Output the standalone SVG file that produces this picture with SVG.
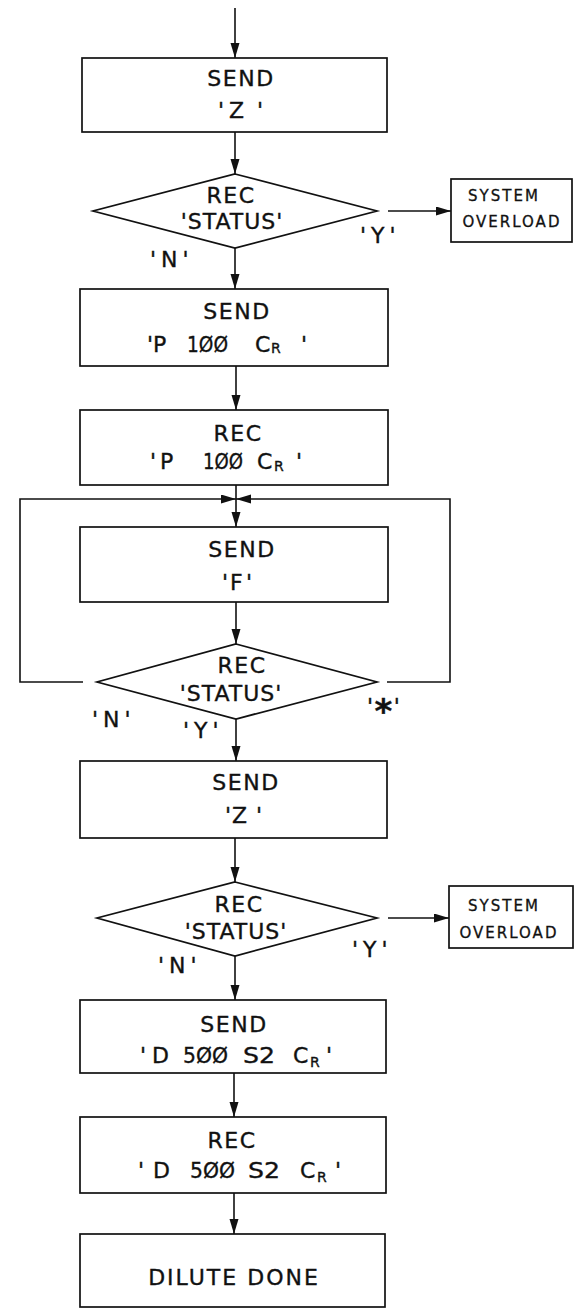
<svg xmlns="http://www.w3.org/2000/svg" width="574" height="1309" viewBox="0 0 574 1309">
<style>
.bg{fill:#fff}
.box{fill:#fff;stroke:#111;stroke-width:1.7}
.ln{fill:none;stroke:#111;stroke-width:1.6}
.t{font-family:"DejaVu Sans","Liberation Sans",sans-serif;font-size:22px;fill:#111;stroke:#111;stroke-width:0.35px;letter-spacing:1.5px}
.m{text-anchor:middle}
.s{font-size:15px;letter-spacing:2px;stroke-width:0.3px}
.sub{font-size:14px;letter-spacing:0}
.lab{letter-spacing:5px}
</style>
<defs>
<marker id="ah" markerUnits="userSpaceOnUse" markerWidth="16" markerHeight="10" refX="15" refY="4.5" orient="auto">
<path d="M0,0 L15,4.5 L0,9 z" fill="#111"/>
</marker>
</defs>
<rect class="bg" x="0" y="0" width="574" height="1309"/>
<g id="connectors">
<line class="ln" x1="235" y1="8" x2="235" y2="58" marker-end="url(#ah)"/>
<line class="ln" x1="235" y1="132" x2="235" y2="174" marker-end="url(#ah)"/>
<line class="ln" x1="235" y1="248" x2="235" y2="289" marker-end="url(#ah)"/>
<line class="ln" x1="388" y1="211" x2="451" y2="211" marker-end="url(#ah)"/>
<line class="ln" x1="236" y1="366" x2="236" y2="410" marker-end="url(#ah)"/>
<line class="ln" x1="236" y1="485" x2="236" y2="527" marker-end="url(#ah)"/>
<polyline class="ln" points="83,682 20,682 20,499 236,499" marker-end="url(#ah)"/>
<polyline class="ln" points="387,682 450,682 450,499 236,499" marker-end="url(#ah)"/>
<line class="ln" x1="236" y1="602" x2="236" y2="644" marker-end="url(#ah)"/>
<line class="ln" x1="236" y1="719" x2="236" y2="761" marker-end="url(#ah)"/>
<line class="ln" x1="235" y1="838" x2="235" y2="882" marker-end="url(#ah)"/>
<line class="ln" x1="388" y1="918" x2="449" y2="918" marker-end="url(#ah)"/>
<line class="ln" x1="235" y1="956" x2="235" y2="1000" marker-end="url(#ah)"/>
<line class="ln" x1="234" y1="1073" x2="234" y2="1117" marker-end="url(#ah)"/>
<line class="ln" x1="234" y1="1193" x2="234" y2="1234" marker-end="url(#ah)"/>
</g>
<g id="send-z-1">
<rect class="box" x="82" y="58" width="305" height="74"/>
<text class="t m" x="241" y="86">SEND</text>
<text class="t" y="118"><tspan x="218">'</tspan><tspan x="229">Z</tspan><tspan x="257">'</tspan></text>
</g>
<g id="rec-status-1">
<polygon class="box" points="235,174 377,211 235,248 93,211"/>
<text class="t m" x="231" y="203">REC</text>
<text class="t m" x="232" y="229" style="letter-spacing:1px">'STATUS'</text>
<text class="t lab" x="360" y="243">'Y'</text>
<text class="t lab" x="150" y="267">'N'</text>
</g>
<g id="overload-1">
<rect class="box" x="451" y="179" width="121" height="63"/>
<text class="t s m" x="504" y="201">SYSTEM</text>
<text class="t s m" x="512" y="227">OVERLOAD</text>
</g>
<g id="send-p100">
<rect class="box" x="80" y="289" width="308" height="77"/>
<text class="t m" x="237" y="319">SEND</text>
<text class="t" y="352" style="letter-spacing:0"><tspan x="147">'</tspan><tspan x="153">P</tspan><tspan x="187" textLength="41" lengthAdjust="spacingAndGlyphs">1ØØ</tspan><tspan x="255">C</tspan><tspan class="sub" x="271" y="353">R</tspan><tspan x="301" y="352">'</tspan></text>
</g>
<g id="rec-p100">
<rect class="box" x="80" y="410" width="308" height="75"/>
<text class="t m" x="238" y="441">REC</text>
<text class="t" y="469" style="letter-spacing:0"><tspan x="150">'</tspan><tspan x="160">P</tspan><tspan x="203" textLength="40" lengthAdjust="spacingAndGlyphs">1ØØ</tspan><tspan x="257">C</tspan><tspan class="sub" x="274" y="471">R</tspan><tspan x="296" y="469">'</tspan></text>
</g>
<g id="send-f">
<rect class="box" x="80" y="527" width="308" height="75"/>
<text class="t m" x="242" y="557">SEND</text>
<text class="t" y="590"><tspan x="222">'</tspan><tspan x="230">F</tspan><tspan x="246">'</tspan></text>
</g>
<g id="rec-status-2">
<polygon class="box" points="236,644 377,682 236,719 97,682"/>
<text class="t m" x="242" y="673">REC</text>
<text class="t m" x="231" y="701" style="letter-spacing:1px">'STATUS'</text>
<text class="t lab" x="92" y="727">'N'</text>
<text class="t lab" x="183" y="738">'Y'</text>
<text class="t" x="367" y="714">'<tspan font-size="34" font-weight="bold" dy="9">*</tspan><tspan dy="-9">'</tspan></text>
</g>
<g id="send-z-2">
<rect class="box" x="80" y="761" width="307" height="77"/>
<text class="t m" x="246" y="790">SEND</text>
<text class="t" y="823"><tspan x="225">'</tspan><tspan x="232">Z</tspan><tspan x="256">'</tspan></text>
</g>
<g id="rec-status-3">
<polygon class="box" points="235,882 377,918 235,956 97,918"/>
<text class="t m" x="239" y="912">REC</text>
<text class="t m" x="236" y="939" style="letter-spacing:1px">'STATUS'</text>
<text class="t lab" x="352" y="957">'Y'</text>
<text class="t lab" x="158" y="973">'N'</text>
</g>
<g id="overload-2">
<rect class="box" x="449" y="886" width="124" height="62"/>
<text class="t s m" x="504" y="911">SYSTEM</text>
<text class="t s m" x="509" y="938">OVERLOAD</text>
</g>
<g id="send-d500">
<rect class="box" x="80" y="1000" width="306" height="73"/>
<text class="t m" x="234" y="1032">SEND</text>
<text class="t" y="1063" style="letter-spacing:0"><tspan x="140">'</tspan><tspan x="152">D</tspan><tspan x="183" textLength="45" lengthAdjust="spacingAndGlyphs">5ØØ</tspan><tspan x="243" textLength="32" lengthAdjust="spacingAndGlyphs">S2</tspan><tspan x="293">C</tspan><tspan class="sub" x="310" y="1067">R</tspan><tspan x="326" y="1063">'</tspan></text>
</g>
<g id="rec-d500">
<rect class="box" x="80" y="1117" width="306" height="76"/>
<text class="t m" x="232" y="1148">REC</text>
<text class="t" y="1178" style="letter-spacing:0"><tspan x="138">'</tspan><tspan x="153">D</tspan><tspan x="190" textLength="45" lengthAdjust="spacingAndGlyphs">5ØØ</tspan><tspan x="248" textLength="32" lengthAdjust="spacingAndGlyphs">S2</tspan><tspan x="300">C</tspan><tspan class="sub" x="317" y="1182">R</tspan><tspan x="335" y="1178">'</tspan></text>
</g>
<g id="dilute-done">
<rect class="box" x="80" y="1234" width="305" height="73"/>
<text class="t m" x="234" y="1285" style="letter-spacing:2px">DILUTE DONE</text>
</g>
</svg>
